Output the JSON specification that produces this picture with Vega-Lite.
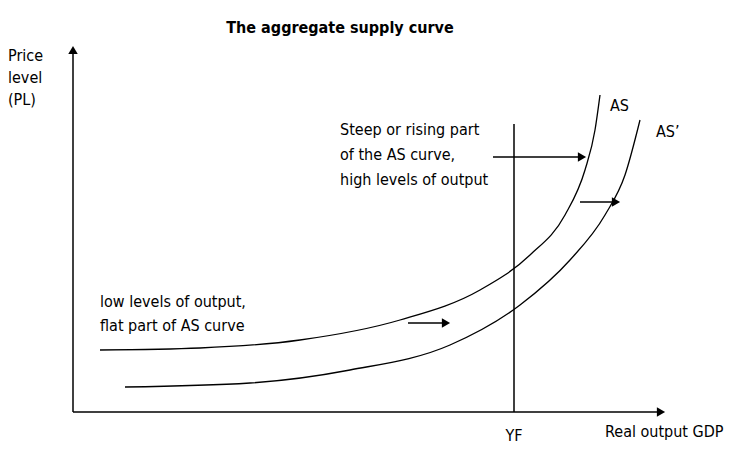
{
"$schema":"https://vega.github.io/schema/vega-lite/v6.json",
"width":750,"height":466,"autosize":{"type":"fit","contains":"padding"},"padding":0,
"background":"white","config":{"view":{"stroke":null}},
"datasets":{
"curves":[
{"s":"AS","o":1,"x":100,"y":116},{"s":"AS","o":2,"x":200,"y":118},{"s":"AS","o":3,"x":300,"y":126},{"s":"AS","o":4,"x":400,"y":146},{"s":"AS","o":5,"x":480,"y":176},{"s":"AS","o":6,"x":530,"y":211},{"s":"AS","o":7,"x":565,"y":251},{"s":"AS","o":8,"x":585,"y":296},{"s":"AS","o":9,"x":595,"y":336},{"s":"AS","o":10,"x":600,"y":371},
{"s":"AS2","o":1,"x":125,"y":79},{"s":"AS2","o":2,"x":250,"y":83},{"s":"AS2","o":3,"x":350,"y":96},{"s":"AS2","o":4,"x":450,"y":121},{"s":"AS2","o":5,"x":520,"y":161},{"s":"AS2","o":6,"x":570,"y":206},{"s":"AS2","o":7,"x":605,"y":251},{"s":"AS2","o":8,"x":625,"y":291},{"s":"AS2","o":9,"x":640,"y":346}],
"rules":[
{"x":73,"y":54,"x2":73,"y2":412},{"x":73,"y":54,"x2":657,"y2":54},{"x":514,"y":54,"x2":514,"y2":342},
{"x":493,"y":309,"x2":578,"y2":309},{"x":408,"y":143,"x2":442,"y2":143},{"x":580,"y":264,"x2":612,"y2":264}],
"heads":[
{"x":73,"y":416,"a":0},{"x":661,"y":54,"a":90},{"x":582,"y":309,"a":90},{"x":446,"y":143,"a":90},{"x":616,"y":264,"a":90}],
"ltexts":[
{"x":8,"y":410,"t":"Price"},
{"x":8,"y":388,"t":"level"},
{"x":8,"y":366,"t":"(PL)"},
{"x":610,"y":360,"t":"AS"},
{"x":656,"y":334,"t":"AS’"},
{"x":340,"y":336,"t":"Steep or rising part"},
{"x":340,"y":311,"t":"of the AS curve,"},
{"x":340,"y":286,"t":"high levels of output"},
{"x":100,"y":164,"t":"low levels of output,"},
{"x":100,"y":140,"t":"flat part of AS curve"},
{"x":605,"y":34,"t":"Real output GDP"}],
"ctexts":[{"x":514,"y":30,"t":"YF"}],
"title":[{"x":340,"y":438,"t":"The aggregate supply curve"}]},
"layer":[
{"data":{"name":"curves"},"mark":{"type":"line","color":"black","strokeWidth":1.3,"interpolate":"monotone"},
"encoding":{"x":{"field":"x","type":"quantitative","scale":{"domain":[0,750],"nice":false},"axis":null},"y":{"field":"y","type":"quantitative","scale":{"domain":[0,466],"nice":false},"axis":null},"detail":{"field":"s"},"order":{"field":"o"}}},
{"data":{"name":"rules"},"mark":{"type":"rule","color":"black","strokeWidth":1.5},
"encoding":{"x":{"field":"x","type":"quantitative"},"y":{"field":"y","type":"quantitative"},"x2":{"field":"x2"},"y2":{"field":"y2"}}},
{"data":{"name":"heads"},"mark":{"type":"point","shape":"triangle-up","filled":true,"color":"black","size":90,"opacity":1},
"encoding":{"x":{"field":"x","type":"quantitative"},"y":{"field":"y","type":"quantitative"},"angle":{"field":"a","type":"quantitative","scale":null}}},
{"data":{"name":"ltexts"},"mark":{"type":"text","font":"DejaVu Sans Condensed, Liberation Sans, sans-serif","fontSize":16,"baseline":"middle","align":"left","color":"black"},
"encoding":{"x":{"field":"x","type":"quantitative"},"y":{"field":"y","type":"quantitative"},"text":{"field":"t"}}},
{"data":{"name":"ctexts"},"mark":{"type":"text","font":"DejaVu Sans Condensed, Liberation Sans, sans-serif","fontSize":16,"baseline":"middle","align":"center","color":"black"},
"encoding":{"x":{"field":"x","type":"quantitative"},"y":{"field":"y","type":"quantitative"},"text":{"field":"t"}}},
{"data":{"name":"title"},"mark":{"type":"text","font":"DejaVu Sans Condensed, Liberation Sans, sans-serif","fontSize":16,"fontWeight":"bold","baseline":"middle","align":"center","color":"black"},
"encoding":{"x":{"field":"x","type":"quantitative"},"y":{"field":"y","type":"quantitative"},"text":{"field":"t"}}}
]}
